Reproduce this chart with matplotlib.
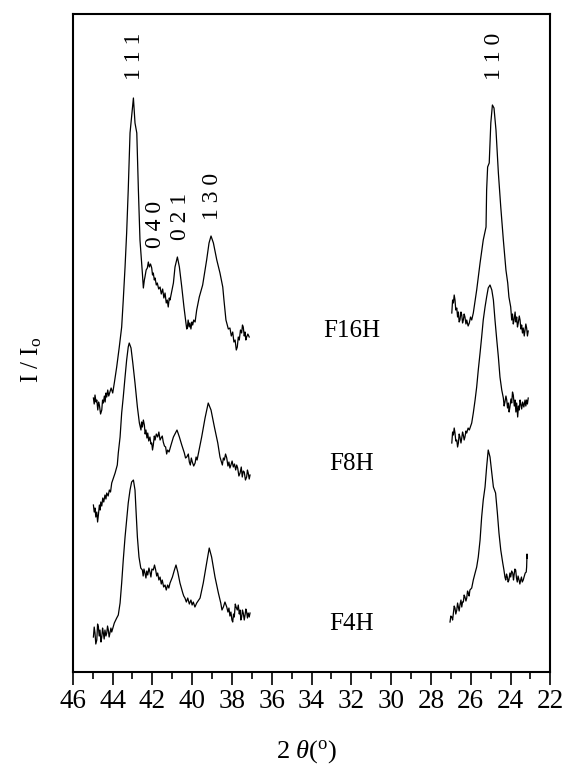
import matplotlib
matplotlib.use('Agg')
from matplotlib import pyplot as plt
from matplotlib.ticker import MultipleLocator


# ---- data (2theta in degrees, intensity in arbitrary units, stacked) ----
samples = ['F16H', 'F8H', 'F4H']

f16h_left_2theta = [44.96, 44.92, 44.88, 44.83, 44.79, 44.74, 44.70, 44.66, 44.60, 44.54, 44.50, 44.46,
                    44.41, 44.37, 44.33, 44.29, 44.24, 44.19, 44.13, 44.07, 43.99, 43.91, 43.79, 43.66,
                    43.54, 43.46, 43.37, 43.29, 43.21, 43.12, 42.95, 42.87, 42.78, 42.70, 42.62, 42.50,
                    42.45, 42.40, 42.37, 42.31, 42.25, 42.20, 42.15, 42.09, 42.03, 41.99, 41.95, 41.90,
                    41.86, 41.80, 41.75, 41.68, 41.61, 41.55, 41.48, 41.42, 41.36, 41.30, 41.25, 41.20,
                    41.15, 41.11, 40.94, 40.86, 40.74, 40.64, 40.52, 40.41, 40.31, 40.27, 40.24, 40.20,
                    40.15, 40.11, 40.06, 40.01, 39.97, 39.92, 39.85, 39.77, 39.64, 39.47, 39.27, 39.15,
                    39.05, 38.93, 38.76, 38.60, 38.46, 38.40, 38.30, 38.26, 38.18, 38.10, 38.03, 37.96,
                    37.90, 37.84, 37.78, 37.73, 37.68, 37.63, 37.57, 37.51, 37.47, 37.43, 37.38, 37.34,
                    37.30, 37.26, 37.20, 37.13]
f16h_left_int = [274, 268, 277, 270, 272, 262, 270, 267, 258, 262, 272, 269,
                 276, 270, 279, 275, 282, 276, 280, 284, 279, 289, 305, 325,
                 345, 372, 405, 439, 482, 539, 574, 549, 539, 482, 432, 399,
                 384, 392, 395, 402, 404, 410, 405, 408, 404, 397, 399, 392,
                 394, 387, 389, 383, 385, 378, 383, 374, 379, 369, 372, 365,
                 374, 372, 389, 405, 415, 405, 385, 365, 349, 343, 344, 352,
                 345, 349, 343, 350, 347, 352, 350, 362, 375, 387, 412, 429,
                 436, 429, 412, 399, 385, 372, 352, 349, 343, 344, 336, 340,
                 330, 332, 322, 325, 335, 332, 342, 339, 347, 345, 336, 340,
                 332, 335, 338, 335]

f16h_right_2theta = [26.95, 26.91, 26.87, 26.83, 26.79, 26.75, 26.70, 26.66, 26.62, 26.58, 26.54, 26.49,
                     26.45, 26.41, 26.37, 26.33, 26.29, 26.24, 26.20, 26.13, 26.07, 26.01, 25.95, 25.87,
                     25.70, 25.53, 25.37, 25.23, 25.20, 25.15, 25.07, 24.99, 24.91, 24.83, 24.73, 24.61,
                     24.49, 24.36, 24.23, 24.14, 24.08, 23.99, 23.94, 23.90, 23.86, 23.82, 23.77, 23.73,
                     23.69, 23.65, 23.61, 23.56, 23.52, 23.48, 23.44, 23.40, 23.36, 23.31, 23.27, 23.23,
                     23.19, 23.15, 23.11]
f16h_right_int = [359, 372, 369, 377, 372, 362, 364, 355, 360, 350, 352, 360,
                  357, 349, 352, 358, 355, 348, 352, 346, 349, 355, 352, 359,
                  382, 409, 432, 445, 482, 505, 509, 549, 567, 564, 542, 499,
                  465, 432, 402, 389, 375, 365, 352, 358, 348, 352, 360, 350,
                  355, 345, 349, 356, 352, 343, 347, 339, 344, 336, 342, 348,
                  344, 336, 341]

f8h_left_2theta = [44.96, 44.92, 44.88, 44.84, 44.79, 44.75, 44.71, 44.66, 44.62, 44.59, 44.54, 44.49,
                   44.44, 44.38, 44.33, 44.29, 44.22, 44.16, 44.10, 44.04, 43.87, 43.76, 43.71, 43.62,
                   43.54, 43.46, 43.37, 43.29, 43.21, 43.16, 43.07, 42.98, 42.87, 42.75, 42.65, 42.57,
                   42.54, 42.50, 42.45, 42.40, 42.36, 42.32, 42.27, 42.23, 42.18, 42.12, 42.07, 42.03,
                   41.99, 41.95, 41.90, 41.86, 41.80, 41.73, 41.67, 41.61, 41.56, 41.50, 41.45, 41.39,
                   41.33, 41.28, 41.23, 41.16, 41.06, 40.94, 40.76, 40.64, 40.52, 40.39, 40.33, 40.27,
                   40.19, 40.14, 40.09, 40.04, 39.99, 39.92, 39.85, 39.80, 39.75, 39.65, 39.52, 39.35,
                   39.19, 39.05, 38.88, 38.71, 38.60, 38.48, 38.43, 38.38, 38.32, 38.26, 38.20, 38.15,
                   38.10, 38.05, 37.99, 37.93, 37.87, 37.81, 37.76, 37.71, 37.65, 37.59, 37.53, 37.48,
                   37.43, 37.38, 37.32, 37.26, 37.22, 37.18, 37.13, 37.09]
f8h_left_int = [167, 160, 164, 155, 160, 150, 157, 167, 162, 170, 166, 174,
                170, 177, 173, 179, 176, 182, 180, 189, 199, 207, 219, 235,
                259, 275, 295, 312, 325, 329, 324, 309, 289, 265, 249, 242,
                250, 245, 252, 247, 238, 242, 234, 239, 231, 235, 228, 229,
                222, 227, 236, 232, 238, 235, 240, 232, 234, 236, 230, 226,
                225, 218, 222, 220, 227, 235, 242, 235, 227, 219, 214, 215,
                218, 210, 207, 214, 210, 206, 209, 215, 212, 222, 235, 254,
                269, 262, 245, 229, 215, 207, 214, 212, 218, 214, 206, 210,
                204, 207, 211, 205, 208, 202, 207, 204, 196, 199, 205, 195,
                201, 200, 192, 195, 202, 199, 193, 197]

f8h_right_2theta = [26.95, 26.91, 26.87, 26.83, 26.79, 26.75, 26.70, 26.66, 26.62, 26.58, 26.54, 26.49,
                    26.45, 26.41, 26.37, 26.33, 26.29, 26.24, 26.20, 26.13, 26.07, 25.95, 25.87, 25.78,
                    25.70, 25.62, 25.53, 25.45, 25.37, 25.28, 25.20, 25.12, 25.03, 24.94, 24.86, 24.78,
                    24.69, 24.61, 24.53, 24.44, 24.36, 24.32, 24.28, 24.23, 24.19, 24.15, 24.11, 24.07,
                    24.03, 23.98, 23.94, 23.90, 23.86, 23.81, 23.77, 23.73, 23.69, 23.64, 23.60, 23.56,
                    23.52, 23.49, 23.44, 23.39, 23.33, 23.27, 23.23, 23.19, 23.15, 23.11]
f8h_right_int = [229, 240, 237, 244, 239, 231, 232, 225, 229, 238, 235, 229,
                 234, 240, 237, 232, 235, 241, 239, 244, 242, 249, 259, 272,
                 285, 302, 319, 335, 352, 365, 375, 384, 387, 382, 372, 352,
                 332, 315, 295, 282, 274, 266, 270, 276, 272, 264, 269, 260,
                 265, 273, 269, 280, 277, 266, 272, 260, 269, 255, 266, 262,
                 272, 269, 263, 270, 265, 272, 266, 272, 268, 274]

f4h_left_2theta = [44.96, 44.92, 44.88, 44.84, 44.79, 44.75, 44.71, 44.67, 44.63, 44.58, 44.54, 44.50,
                   44.46, 44.42, 44.38, 44.33, 44.29, 44.25, 44.21, 44.17, 44.13, 44.08, 44.04, 43.91,
                   43.79, 43.71, 43.62, 43.54, 43.46, 43.37, 43.29, 43.21, 43.12, 43.04, 42.95, 42.87,
                   42.82, 42.75, 42.67, 42.58, 42.50, 42.46, 42.42, 42.37, 42.32, 42.28, 42.23, 42.17,
                   42.12, 42.07, 42.02, 41.95, 41.89, 41.83, 41.78, 41.73, 41.67, 41.61, 41.55, 41.50,
                   41.43, 41.36, 41.30, 41.23, 41.17, 41.11, 40.99, 40.89, 40.81, 40.72, 40.61, 40.47,
                   40.42, 40.36, 40.29, 40.22, 40.14, 40.06, 40.00, 39.94, 39.86, 39.77, 39.60, 39.44,
                   39.27, 39.14, 39.02, 38.85, 38.68, 38.56, 38.50, 38.43, 38.35, 38.26, 38.20, 38.15,
                   38.10, 38.05, 38.00, 37.96, 37.92, 37.88, 37.83, 37.79, 37.73, 37.68, 37.63, 37.59,
                   37.55, 37.51, 37.47, 37.43, 37.38, 37.34, 37.30, 37.26, 37.22, 37.18, 37.13, 37.09]
f4h_left_int = [35, 45, 39, 28, 32, 48, 45, 36, 42, 30, 35, 44,
                39, 33, 42, 36, 39, 46, 42, 35, 39, 44, 40, 49,
                54, 57, 69, 89, 112, 135, 152, 169, 182, 190, 192, 182,
                162, 135, 115, 104, 102, 96, 103, 99, 94, 101, 97, 104,
                100, 95, 103, 102, 107, 102, 96, 99, 92, 95, 88, 92,
                85, 87, 82, 87, 84, 89, 95, 102, 107, 100, 89, 79,
                76, 74, 70, 74, 68, 72, 67, 70, 65, 69, 74, 89,
                109, 124, 115, 95, 79, 69, 62, 65, 70, 65, 60, 64,
                56, 60, 52, 50, 58, 55, 68, 65, 62, 67, 58, 62,
                52, 55, 62, 59, 52, 57, 63, 60, 54, 59, 55, 59]

f4h_right_2theta = [27.04, 27.00, 26.95, 26.91, 26.87, 26.83, 26.79, 26.75, 26.70, 26.66, 26.62, 26.58,
                    26.54, 26.49, 26.45, 26.41, 26.37, 26.33, 26.29, 26.24, 26.20, 26.16, 26.12, 26.08,
                    26.04, 25.95, 25.87, 25.78, 25.70, 25.62, 25.53, 25.45, 25.37, 25.28, 25.20, 25.12,
                    25.03, 24.94, 24.86, 24.75, 24.66, 24.58, 24.49, 24.39, 24.33, 24.28, 24.24, 24.20,
                    24.16, 24.12, 24.08, 24.03, 23.99, 23.94, 23.89, 23.85, 23.82, 23.78, 23.74, 23.70,
                    23.66, 23.62, 23.57, 23.53, 23.49, 23.45, 23.41, 23.36, 23.32, 23.26, 23.21, 23.19,
                    23.17, 23.16]
f4h_right_int = [50, 56, 55, 52, 59, 66, 64, 58, 62, 69, 65, 61,
                 67, 72, 65, 70, 70, 77, 75, 71, 74, 81, 79, 76,
                 82, 84, 92, 99, 105, 115, 132, 155, 172, 185, 205, 222,
                 215, 199, 185, 179, 159, 139, 122, 109, 102, 95, 92, 98,
                 95, 90, 92, 99, 95, 101, 99, 92, 97, 103, 102, 94,
                 90, 96, 92, 88, 92, 95, 90, 92, 95, 99, 100, 105,
                 118, 114]

hkl_labels = ['1 1 1', '0 4 0', '0 2 1', '1 3 0', '1 1 0']
hkl_2theta = [42.92, 41.85, 40.60, 38.97, 24.78]
hkl_label_base = [592, 424, 432, 452, 592]

sample_label_2theta = [32.0, 32.0, 32.0]
sample_label_int = [341, 208, 48]


def main():
    plt.rcParams['font.family'] = 'Liberation Serif'
    plt.rcParams['mathtext.fontset'] = 'custom'
    plt.rcParams['mathtext.rm'] = 'Liberation Serif'
    plt.rcParams['mathtext.it'] = 'Liberation Serif:italic'

    fig = plt.figure(figsize=(5.65, 7.77), dpi=100)
    ax = fig.add_axes([0.1287, 0.1351, 0.8453, 0.8469])

    curves = [
        (f16h_left_2theta, f16h_left_int), (f16h_right_2theta, f16h_right_int),
        (f8h_left_2theta, f8h_left_int), (f8h_right_2theta, f8h_right_int),
        (f4h_left_2theta, f4h_left_int), (f4h_right_2theta, f4h_right_int),
    ]
    for x, y in curves:
        ax.plot(x, y, color='black', linewidth=0.9)

    for lab, x, y in zip(hkl_labels, hkl_2theta, hkl_label_base):
        ax.text(x, y, lab, rotation=90, ha='center', va='bottom', fontsize=17)

    for lab, x, y in zip(samples, sample_label_2theta, sample_label_int):
        ax.text(x, y, lab, ha='center', va='center', fontsize=18)

    ax.set_xlim(46, 22)
    ax.set_ylim(0, 658)
    ax.xaxis.set_major_locator(MultipleLocator(2))
    ax.xaxis.set_minor_locator(MultipleLocator(1))
    ax.set_yticks([])
    ax.tick_params(axis='x', which='major', direction='out', length=9, width=1.2,
                   labelsize=19.5, pad=3)
    ax.tick_params(axis='x', which='minor', direction='out', length=5, width=1.2)
    for s in ax.spines.values():
        s.set_linewidth(1.5)

    ax.set_xlabel(r'2 $\theta$($^{\rm o}$)', fontsize=19)
    ax.xaxis.set_label_coords(0.49, -0.10)
    ax.set_ylabel(r'I / I$_{\rm o}$', fontsize=18)
    ax.yaxis.set_label_coords(-0.06, 0.474)

    plt.savefig('out.png', dpi=100)


if __name__ == '__main__':
    main()
